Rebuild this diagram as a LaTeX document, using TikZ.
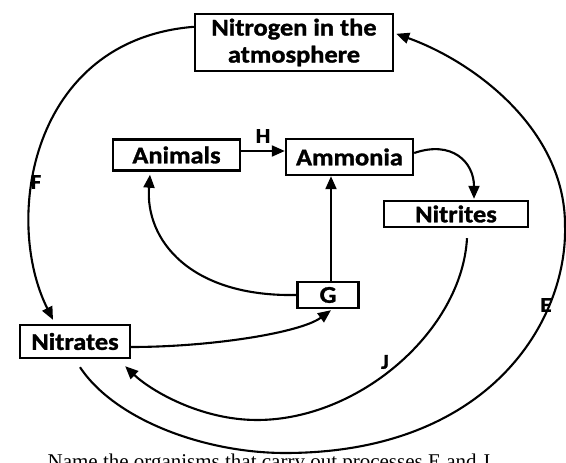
\documentclass[tikz,border=0pt]{standalone}
\usepackage{graphicx}
\usepackage{fontspec}
\setmainfont{Liberation Serif}
\newfontfamily\boxfont[BoldFeatures={FakeBold=1.3}]{Carlito}
\usetikzlibrary{arrows.meta,calc}

% slightly widened bold labels
\newcommand\wide[1]{\scalebox{1.1}[1]{#1}}

\begin{document}
\begin{tikzpicture}[x=1pt,y=-1pt,
  box/.style={draw, line width=2.4pt, inner sep=0pt,
    font=\boxfont\bfseries\fontsize{24}{27}\selectfont},
  flow/.style={line width=2.1pt, -{Triangle[length=13pt,width=11pt]}},
  tag/.style={inner sep=0pt, font=\boxfont\bfseries\fontsize{21}{23}\selectfont}]

\fill[white] (0,0) rectangle (566,463);
\useasboundingbox (0,0) rectangle (566,463);

% boxes
\node[box, minimum width=198pt, minimum height=57pt, align=center] (nit) at (294,42.5)
  {\wide{Nitrogen in the}\\\wide{atmosphere}};
\node[box, minimum width=127pt, minimum height=31pt] (ani) at (176.5,155) {\wide{Animals}};
\node[box, minimum width=127pt, minimum height=36pt] (amm) at (349.5,157) {\wide{Ammonia}};
\node[box, minimum width=144pt, minimum height=26pt] (nii) at (456,214) {\wide{Nitrites}};
\node[box, minimum width=61pt, minimum height=26pt] (g) at (328,295) {\wide{G}};
\node[box, minimum width=110pt, minimum height=33pt] (nat) at (75,341.5) {\wide{Nitrates}};

% F: atmosphere -> nitrates
\draw[flow] ($(nit.north west)+(0,14)$) .. controls (30,40) and (3,220) .. ($(nat.north)+(-22,-4)$);

% E: nitrates -> atmosphere, round the outside
\draw[flow] ($(nat.south)+(5,8)$) .. controls (115,420) and (205,453) .. (285,453)
  .. controls (490,453) and (568,320) .. (565,225)
  .. controls (565,130) and (475,62) .. ($(nit.north east)+(2,21)$);

% J: nitrites -> nitrates
\draw[flow] ($(nii.south)+(11,10)$) .. controls (462,330) and (360,420) .. (257,420)
  .. controls (200,420) and (150,390) .. ($(nat.south east)+(-6,7)$);

% nitrates -> G
\draw[flow] ($(nat.east)+(0,5.5)$) .. controls (210,347) and (300,333) .. ($(g.south)+(3,1)$);

% G -> animals
\draw[flow] (g.west) .. controls (190,297) and (145,240) .. ($(ani.south)+(-26.5,3)$);

% G -> ammonia
\path ($(g.north)+(3,0)$) coordinate (gt);
\draw[flow] (gt) -- (gt |- amm.south);

% H: animals -> ammonia
\path ($(ani.east)+(0,-4)$) coordinate (h0);
\draw[flow] (h0) -- (h0 -| amm.west);

% ammonia -> nitrites
\draw[flow] ($(amm.east)+(0,-4)$) .. controls (452,140) and (474,162) .. ($(nii.north)+(18,-1)$);

% process letters
\node[tag] (lh) at (263,136) {\wide{H}};
\node[tag] (lf) at (36,182) {\wide{F}};
\node[tag] (le) at (546,305) {\wide{E}};
\node[tag] (lj) at (385,362) {\wide{J}};

% question line running off the lower edge
\begin{scope}
\clip (0,0) rectangle (566,463);
\node[anchor=base west, inner sep=0pt, font=\fontsize{21}{24}\selectfont] (q2) at (428,468) {E and J};
\node[anchor=base east, inner sep=0pt, font=\fontsize{21}{24}\selectfont] (q1) at (423,468)
  {Name the organisms that carry out processes};
\end{scope}
\end{tikzpicture}
\end{document}
